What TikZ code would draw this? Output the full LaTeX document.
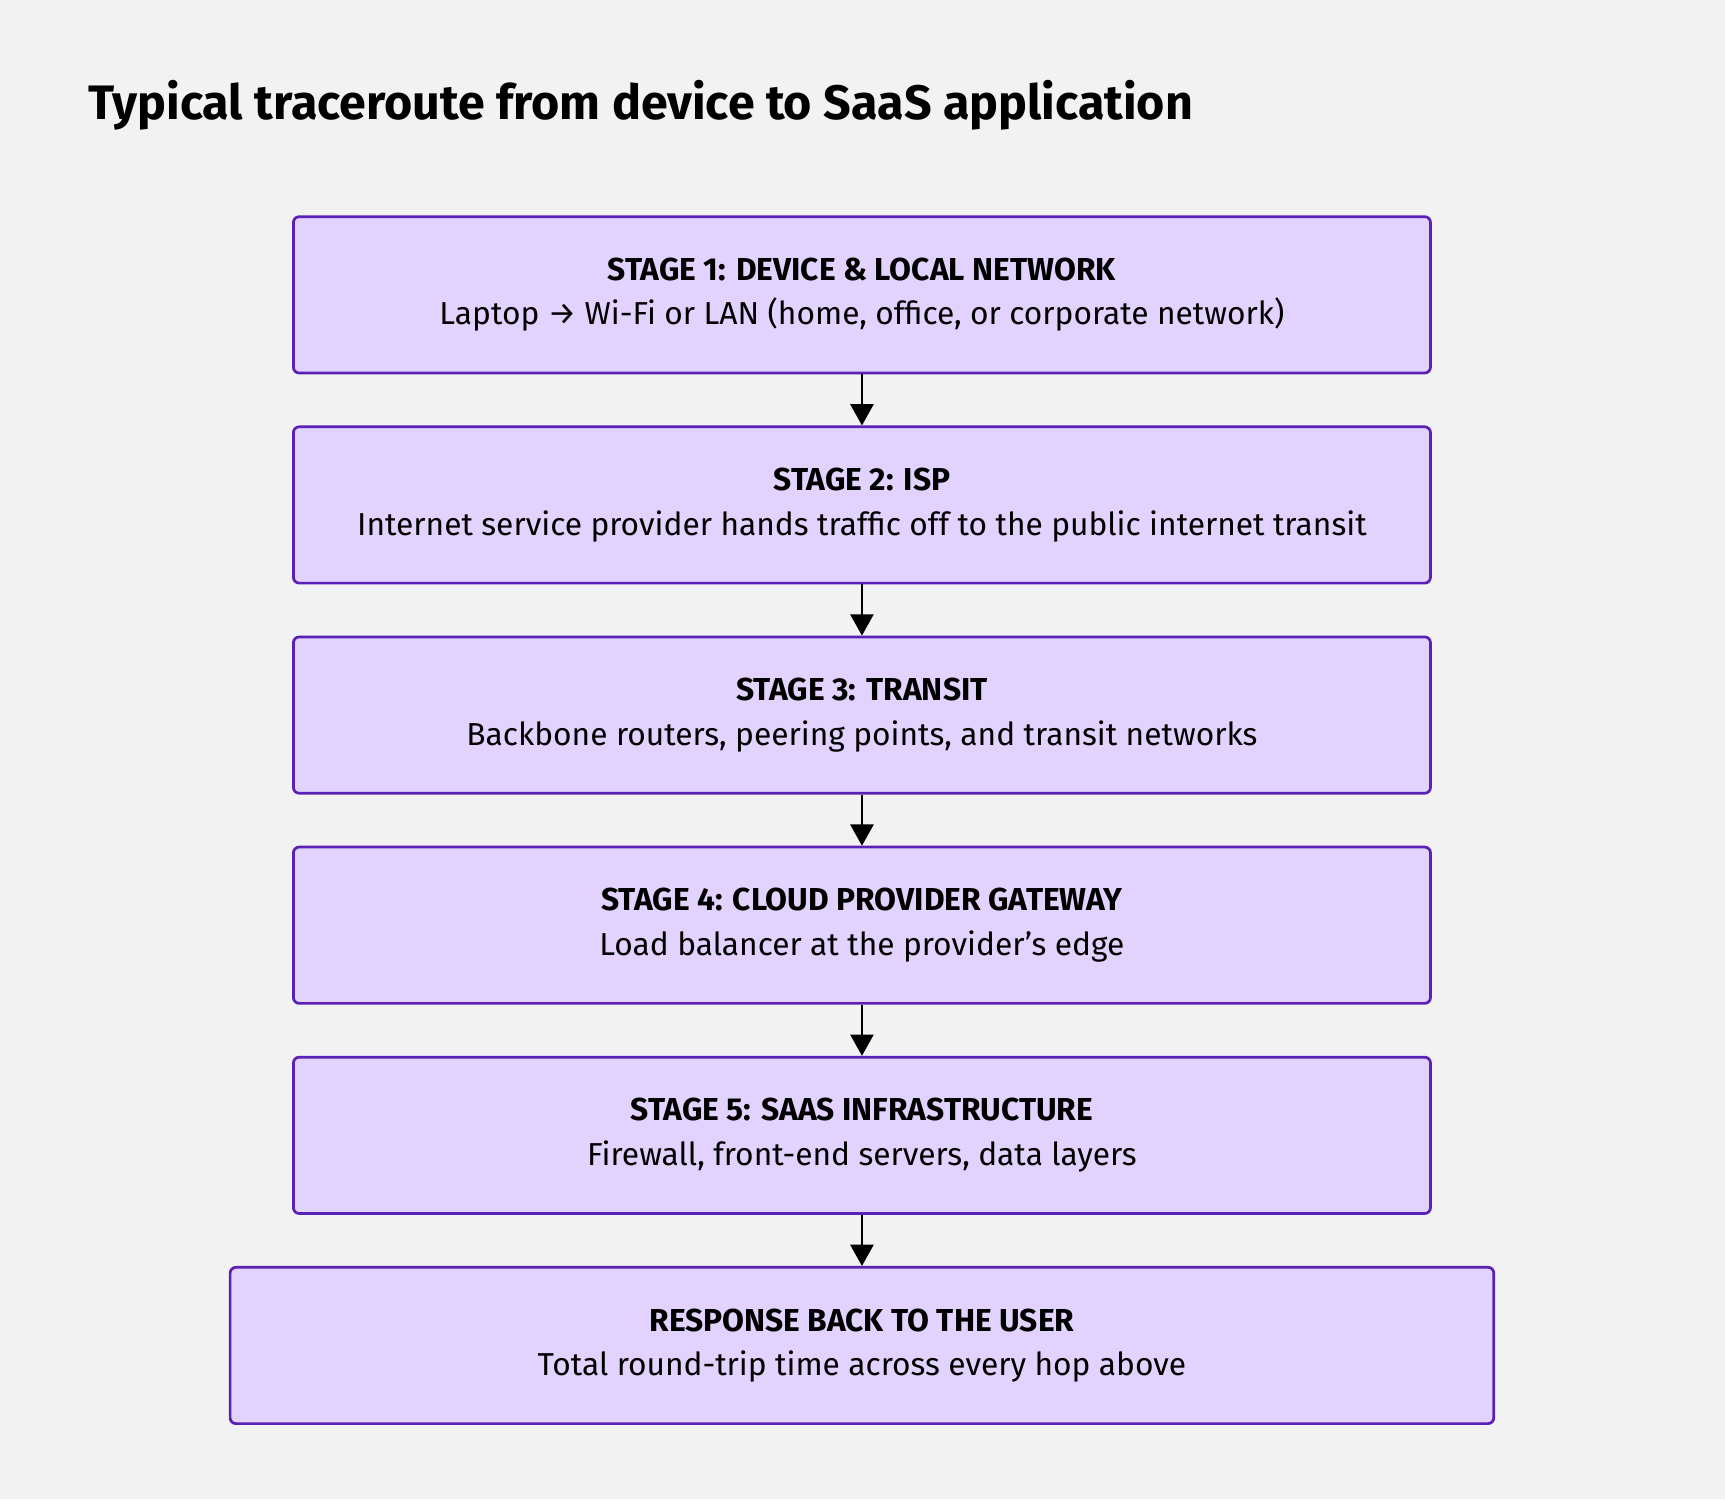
\documentclass[tikz,border=0pt]{standalone}
\usepackage{fontspec}
\setmainfont{Fira Sans}
\usetikzlibrary{positioning, arrows.meta}
\definecolor{stagefill}{HTML}{E1D3FD}
\definecolor{stageline}{HTML}{5B21B6}
\definecolor{paper}{HTML}{F2F2F2}
\tikzset{>={Triangle[length=5.5pt,width=6pt]}}
\begin{document}
\begin{tikzpicture}[x=0.01cm, y=-0.01cm,
    stage/.style={draw=stageline, fill=stagefill, line width=0.7pt, rounded corners=1.5pt,
      minimum width=10.33cm, minimum height=1.42cm, align=center, font=\fontsize{8.2pt}{11.5pt}\selectfont},
    hop/.style={->, line width=0.5pt}]
  \fill [paper] (0,0) rectangle (1568,1363);
  \useasboundingbox (0,0) rectangle (1568,1363);
  \node [anchor=west, font=\fontsize{12.5pt}{14pt}\selectfont\bfseries] (title) at (68,96) {Typical traceroute from device to SaaS application};
  \node [stage] (s1) at (783.5,268) {\textbf{STAGE 1: DEVICE \& LOCAL NETWORK}\\Laptop → Wi-Fi or LAN (home, office, or corporate network)};
  \node [stage] (s2) at (783.5,459) {\textbf{STAGE 2: ISP}\\Internet service provider hands traffic off to the public internet transit};
  \node [stage] (s3) at (783.5,650) {\textbf{STAGE 3: TRANSIT}\\Backbone routers, peering points, and transit networks};
  \node [stage] (s4) at (783.5,841) {\textbf{STAGE 4: CLOUD PROVIDER GATEWAY}\\Load balancer at the provider's edge};
  \node [stage] (s5) at (783.5,1032) {\textbf{STAGE 5: SAAS INFRASTRUCTURE}\\Firewall, front-end servers, data layers};
  \node [stage, minimum width=11.48cm] (back) at (783.5,1223) {\textbf{RESPONSE BACK TO THE USER}\\Total round-trip time across every hop above};
  \draw [hop] (s1) -- (s2);
  \draw [hop] (s2) -- (s3);
  \draw [hop] (s3) -- (s4);
  \draw [hop] (s4) -- (s5);
  \draw [hop] (s5) -- (back);
\end{tikzpicture}
\end{document}
